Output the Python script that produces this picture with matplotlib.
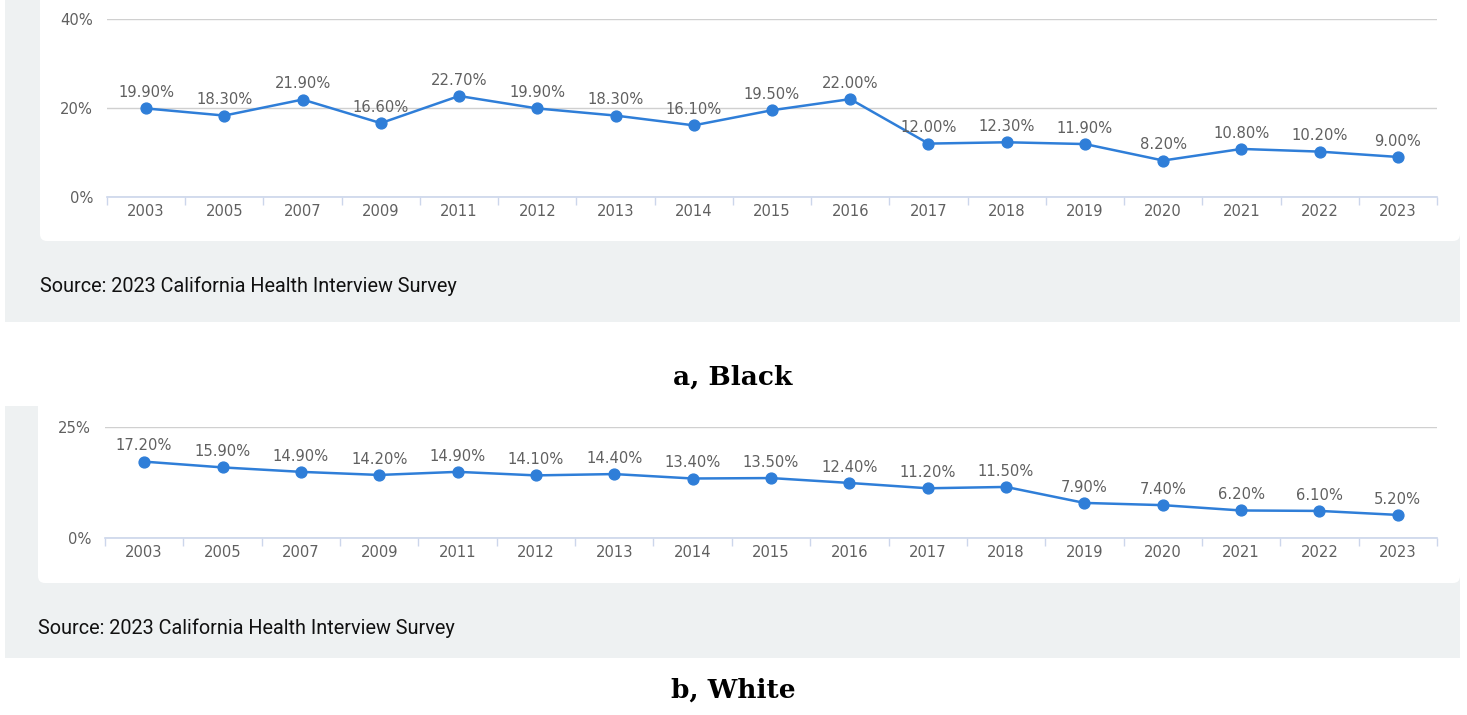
import matplotlib
matplotlib.use("Agg")
import matplotlib.pyplot as plt
from matplotlib.patches import FancyBboxPatch, Rectangle

plt.rcParams["font.family"] = ["DejaVu Sans"]

years = ["2003", "2005", "2007", "2009", "2011", "2012", "2013", "2014", "2015",
         "2016", "2017", "2018", "2019", "2020", "2021", "2022", "2023"]
black_vals = [19.9, 18.3, 21.9, 16.6, 22.7, 19.9, 18.3, 16.1, 19.5, 22.0,
              12.0, 12.3, 11.9, 8.2, 10.8, 10.2, 9.0]
white_vals = [17.2, 15.9, 14.9, 14.2, 14.9, 14.1, 14.4, 13.4, 13.5, 12.4,
              11.2, 11.5, 7.9, 7.4, 6.2, 6.1, 5.2]
black_yticks = [0, 20, 40]
white_yticks = [0, 25]
source_text = "Source: 2023 California Health Interview Survey"
captions = ["a, Black", "b, White"]

W, H = 1467, 715
fig = plt.figure(figsize=(W / 100, H / 100), dpi=100)

BG = "#eef1f2"
LINE = "#2f7ed8"
TXT = "#606060"
AXC = "#ccd6eb"
GRID = "#d0d0d0"

# background layer in pixel coords
bg = fig.add_axes([0, 0, 1, 1], zorder=0)
bg.set_xlim(0, W)
bg.set_ylim(H, 0)
bg.axis("off")

def panel(grey_top, grey_bot, card_left, card_bot, src_y, cap_y, cap):
    bg.add_patch(Rectangle((5, grey_top), 1460 - 5, grey_bot - grey_top,
                           facecolor=BG, edgecolor="none"))
    bg.add_patch(FancyBboxPatch((card_left, grey_top - 10), 1460 - card_left,
                                card_bot - grey_top + 10,
                                boxstyle="round,pad=0,rounding_size=7",
                                facecolor="white", edgecolor="none"))
    bg.text(card_left, src_y, source_text, fontsize=14.3, family="Roboto",
            color="#111111", ha="left", va="center")
    bg.text(733, cap_y, cap, fontsize=19, family="DejaVu Serif",
            fontweight="bold", color="black", ha="center", va="center")

panel(0, 322, 40, 241, 286, 377, captions[0])
panel(406, 658, 38, 583, 628, 690, captions[1])


def chart(rect, vals, yticks):
    ax = fig.add_axes(rect, zorder=2)
    ax.patch.set_alpha(0)
    x = list(range(len(years)))
    ax.plot(x, vals, color=LINE, lw=1.8, marker="o", ms=7.8, zorder=3,
            clip_on=False)
    for xi, v in zip(x, vals):
        ax.annotate(f"{v:.2f}%", (xi, v), xytext=(0, 6),
                    textcoords="offset points", ha="center", va="bottom",
                    fontsize=10.6, color=TXT, zorder=4, family="DejaVu Sans")
    ax.set_xlim(-0.5, len(years) - 0.5)
    ax.set_ylim(yticks[0], yticks[-1])
    ax.set_xticks(x)
    ax.set_xticklabels(years, family="DejaVu Sans")
    ax.set_xticks([i - 0.5 for i in range(len(years) + 1)], minor=True)
    ax.tick_params(axis="x", which="major", length=0, pad=5,
                   labelsize=10.6, labelcolor=TXT)
    ax.tick_params(axis="x", which="minor", length=6, color=AXC, width=1)
    ax.set_yticks(yticks)
    ax.set_yticklabels([f"{t}%" for t in yticks], family="DejaVu Sans")
    ax.tick_params(axis="y", length=0, pad=10, labelsize=10.6, labelcolor=TXT)
    for s in ["top", "left", "right"]:
        ax.spines[s].set_visible(False)
    ax.spines["bottom"].set_color(AXC)
    ax.spines["bottom"].set_linewidth(1.2)
    ax.grid(axis="y", color=GRID, lw=1)
    ax.set_axisbelow(True)
    return ax

chart([107 / W, 1 - 197 / H, (1437 - 107) / W, (197 - 19) / H],
      black_vals, black_yticks)
chart([105 / W, 1 - 538 / H, (1437 - 105) / W, (538 - 427) / H],
      white_vals, white_yticks)

fig.savefig("out.png", dpi=100)
